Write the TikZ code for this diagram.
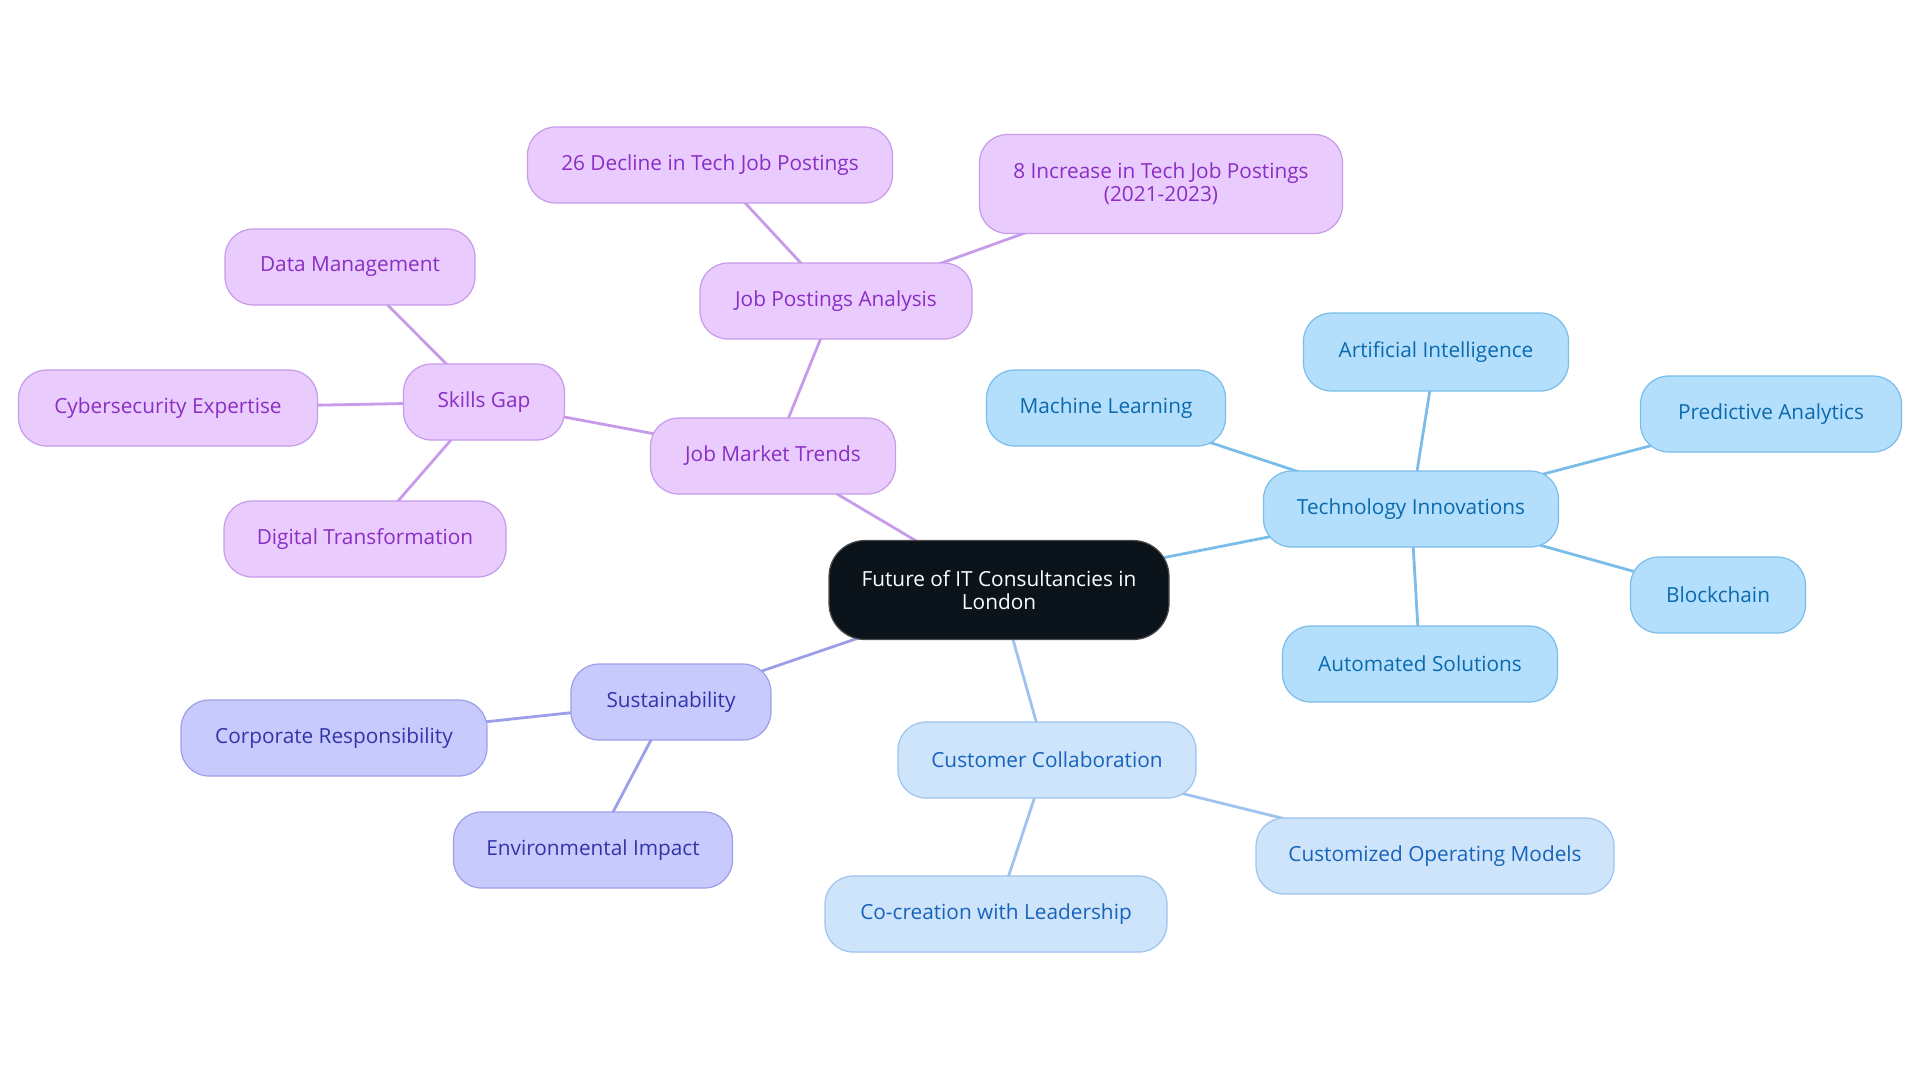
\documentclass[tikz,border=0pt]{standalone}
\usepackage{fontspec}
\setmainfont{Open Sans}
\definecolor{pfill}{HTML}{E9CBFD}
\definecolor{pdraw}{HTML}{C79BEA}
\definecolor{ptext}{HTML}{8A2EC4}
\definecolor{bfill}{HTML}{B3DEFC}
\definecolor{bdraw}{HTML}{7BBDE9}
\definecolor{btext}{HTML}{0B6AAE}
\definecolor{cfill}{HTML}{CDE4FB}
\definecolor{cdraw}{HTML}{9DC3EE}
\definecolor{ctext}{HTML}{1763BC}
\definecolor{sfill}{HTML}{C8CAFD}
\definecolor{sdraw}{HTML}{9C9FE8}
\definecolor{stext}{HTML}{3134A6}
\definecolor{root}{HTML}{0B131B}
\pgfdeclarelayer{bg}
\pgfsetlayers{bg,main}
\tikzset{
  box/.style={rounded corners=14pt, line width=0.6pt, minimum height=38pt, inner sep=2pt,
    align=center, font=\fontsize{10.4}{11.5}\selectfont},
  pbox/.style={box, fill=pfill, draw=pdraw, text=ptext},
  bbox/.style={box, fill=bfill, draw=bdraw, text=btext},
  cbox/.style={box, fill=cfill, draw=cdraw, text=ctext},
  sbox/.style={box, fill=sfill, draw=sdraw, text=stext},
  pl/.style={draw=pdraw, line width=1.4pt},
  bl/.style={draw=bdraw, line width=1.4pt},
  cl/.style={draw=cdraw, line width=1.4pt},
  sl/.style={draw=sdraw, line width=1.4pt},
}
\begin{document}
\begin{tikzpicture}[x=0.5pt,y=-0.5pt]
\useasboundingbox (0,0) rectangle (1920,1083);
% nodes
\node[box, fill=root, draw=gray!60!black, text=white, minimum width=170pt, minimum height=49.5pt, rounded corners=18pt] (root) at (999,590) {Future of IT Consultancies in\\London};
\node[pbox, minimum width=122.5pt] (jmt) at (773,456) {Job Market Trends};
\node[pbox, minimum width=136pt] (jpa) at (836,301) {Job Postings Analysis};
\node[pbox, minimum width=182.5pt] (dec) at (710,165) {26 Decline in Tech Job Postings};
\node[pbox, minimum width=181.5pt, minimum height=49.5pt] (inc) at (1161,184) {8 Increase in Tech Job Postings\\(2021-2023)};
\node[pbox, minimum width=80.5pt] (sg) at (484,402) {Skills Gap};
\node[pbox, minimum width=125pt] (dm) at (350,267) {Data Management};
\node[pbox, minimum width=149.5pt] (cy) at (168,408) {Cybersecurity Expertise};
\node[pbox, minimum width=141pt] (dt) at (365,539) {Digital Transformation};
\node[bbox, minimum width=147.5pt] (ti) at (1411,509) {Technology Innovations};
\node[bbox, minimum width=119.5pt] (ml) at (1106,408) {Machine Learning};
\node[bbox, minimum width=132.5pt, minimum height=39pt] (ai) at (1436,352) {Artificial Intelligence};
\node[bbox, minimum width=130.5pt] (pa) at (1771,414) {Predictive Analytics};
\node[bbox, minimum width=87.5pt] (bc) at (1718,595) {Blockchain};
\node[bbox, minimum width=137.5pt] (as) at (1420,664) {Automated Solutions};
\node[cbox, minimum width=149pt] (cc) at (1047,760) {Customer Collaboration};
\node[cbox, minimum width=179pt] (com) at (1435,856) {Customized Operating Models};
\node[cbox, minimum width=171pt] (ccl) at (996,914) {Co-creation with Leadership};
\node[sbox, minimum width=100pt] (su) at (671,702) {Sustainability};
\node[sbox, minimum width=153pt] (cr) at (334,738) {Corporate Responsibility};
\node[sbox, minimum width=139.5pt] (ei) at (593,850) {Environmental Impact};
% connectors
\begin{pgfonlayer}{bg}
\path[pl] (root.center) -- (jmt.center);
\path[pl] (jmt.center) -- (jpa.center);
\path[pl] (jpa.center) -- (dec.center);
\path[pl] (jpa.center) -- (inc.center);
\path[pl] (jmt.center) -- (sg.center);
\path[pl] (sg.center) -- (dm.center);
\path[pl] (sg.center) -- (cy.center);
\path[pl] (sg.center) -- (dt.center);
\path[bl] (root.center) -- (ti.center);
\path[bl] (ti.center) -- (ml.center);
\path[bl] (ti.center) -- (ai.center);
\path[bl] (ti.center) -- (pa.center);
\path[bl] (ti.center) -- (bc.center);
\path[bl] (ti.center) -- (as.center);
\path[cl] (root.center) -- (cc.center);
\path[cl] (cc.center) -- (com.center);
\path[cl] (cc.center) -- (ccl.center);
\path[sl] (root.center) -- (su.center);
\path[sl] (su.center) -- (cr.center);
\path[sl] (su.center) -- (ei.center);
\end{pgfonlayer}
\end{tikzpicture}
\end{document}
